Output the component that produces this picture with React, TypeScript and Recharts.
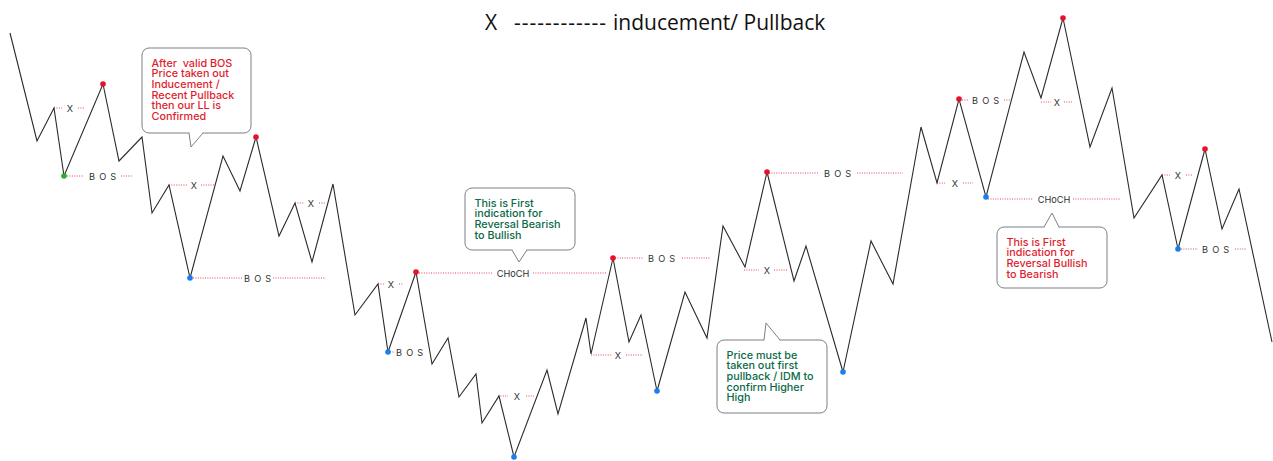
import React from 'react';
import { ComposedChart, Line, XAxis, YAxis, ReferenceLine, ReferenceDot, ReferenceArea } from 'recharts';

const W = 1273;
const H = 461;

// zig-zag price swing vertices
const swingX = [10, 37, 54, 64, 103, 119, 142, 152, 169, 190, 223, 240, 256, 279, 295, 312, 333, 355, 378, 388, 416, 432, 448, 459, 476, 482, 499, 514, 547, 558, 586, 591, 613, 629, 641, 657, 685, 707, 723, 745, 767, 794, 806, 843, 871, 893, 921, 937, 959, 986, 1024, 1041, 1063, 1090, 1112, 1134, 1162, 1178, 1205, 1222, 1239, 1272];
const swingY = [33, 141, 108, 176, 84, 161, 137, 213, 185, 278, 156, 191, 137, 236, 203, 262, 184, 315, 284, 352, 272, 364, 338, 397, 374, 423, 396, 457, 370, 414, 318, 354, 258, 342, 315, 391, 292, 338, 226, 267, 172, 281, 246, 372, 241, 284, 127, 183, 99, 197, 52, 98, 18, 147, 88, 218, 175, 249, 149, 229, 189, 342];

// structure levels: [price, leftStart, leftEnd, rightStart, rightEnd, labelX]
const levelLabels = ['X', 'B O S', 'X', 'X', 'B O S', 'X', 'CHoCH', 'B O S', 'X', 'X', 'B O S', 'X', 'B O S', 'X', 'B O S', 'X', 'CHoCH', 'X', 'B O S'];
const levelValues = [
  [108, 54, 62, 78, 84, 70],
  [176, 67, 84, 121, 133, 103],
  [185, 169, 187, 201, 215, 194],
  [203, 295, 304, 319, 325, 311],
  [278, 193, 243, 273, 326, 258],
  [284, 378, 385, 399, 403, 391],
  [273, 419, 493, 533, 606, 513],
  [352, 390, 395, 0, 0, 410],
  [396, 498, 508, 526, 534, 517],
  [355, 591, 612, 626, 643, 618],
  [258, 615, 643, 682, 710, 662],
  [270, 744, 759, 774, 787, 767],
  [173, 769, 819, 857, 903, 838],
  [183, 937, 945, 963, 973, 955],
  [100, 962, 968, 1004, 1011, 986],
  [102, 1041, 1051, 1064, 1072, 1057],
  [199, 988, 1033, 1073, 1121, 1054],
  [175, 1162, 1170, 1186, 1193, 1178],
  [249, 1181, 1198, 1235, 1247, 1216],
];

const greenPoints = [[64, 176]];
const redPoints = [[103, 84], [256, 137], [416, 272], [613, 258], [767, 172], [959, 99], [1063, 18], [1205, 149]];
const bluePoints = [[190, 278], [388, 352], [514, 457], [657, 391], [843, 372], [986, 197], [1178, 249]];

const calloutLines = [
  ['After  valid BOS', 'Price taken out', 'Inducement /', 'Recent Pullback', 'then our LL is', 'Confirmed'],
  ['This is First', 'indication for', 'Reversal Bearish', 'to Bullish'],
  ['Price must be', 'taken out first', 'pullback / IDM to', 'confirm Higher', 'High'],
  ['This is First', 'indication for', 'Reversal Bullish', 'to Bearish'],
];
// [x1, x2, y1, y2]
const calloutBoxes = [
  [142, 251, 48, 133],
  [465, 575, 188, 250],
  [717, 827, 340, 413],
  [997, 1107, 227, 288],
];
// [baseLeftX, baseRightX, tipX, tipY]
const calloutTails = [
  [189, 203, 191, 147],
  [512, 527, 519, 262],
  [764, 780, 766, 323],
  [1044, 1059, 1052, 213],
];
const calloutColors = ['#e11d2e', '#0c6a48', '#0c6a48', '#e11d2e'];

const titleMark = 'X';
const titleDashes = '------------';
const titleText = 'inducement/ Pullback';

const swingData = swingX.map((x, i) => ({ x, y: swingY[i] }));

const LEVEL_COLOR = '#e0426a';
const FONT = 'Inter, "Noto Sans", sans-serif';

function makeCallout(i: number) {
  return (p: any) => {
    const { x, y, width, height } = p;
    const [x1, x2, y1, y2] = calloutBoxes[i];
    const [bl, br, tx, ty] = calloutTails[i];
    const sx = (v: number) => x + ((v - x1) / (x2 - x1)) * width;
    const sy = (v: number) => y + ((v - y1) / (y2 - y1)) * height;
    const bottom = ty > y2;
    const by = bottom ? y + height : y;
    const lines = calloutLines[i];
    return (
      <g>
        <rect x={x} y={y} width={width} height={height} rx={7} ry={7} fill="#fff" stroke="#7a7f88" strokeWidth={1} />
        <line x1={sx(bl) + 0.5} y1={by} x2={sx(br) - 0.5} y2={by} stroke="#fff" strokeWidth={2.5} />
        <path d={`M${sx(bl)},${by} L${sx(tx)},${sy(ty)} L${sx(br)},${by}`} fill="#fff" stroke="#7a7f88" strokeWidth={1} />
        {lines.map((t, k) => (
          <text key={k} x={x + 9.5} y={y + 18.5 + k * 10.7} fill={calloutColors[i]} fontSize={10.8} fontWeight={500} fontFamily={FONT} style={{ whiteSpace: 'pre' }}>
            {t}
          </text>
        ))}
      </g>
    );
  };
}

function makeLabel(text: string) {
  return (p: any) => (
    <text
      x={p.cx}
      y={p.cy}
      textAnchor="middle"
      dominantBaseline="central"
      fontSize={9.2}
      letterSpacing={text === 'B O S' ? 0.8 : 0}
      fill="#333"
      fontFamily={FONT}
      style={{ whiteSpace: 'pre' }}
    >
      {text}
    </text>
  );
}

export default function App() {
  const titleStyle: React.CSSProperties = {
    position: 'absolute',
    top: 8,
    fontFamily: '"Open Sans", sans-serif',
    fontSize: 21,
    lineHeight: '28px',
    color: '#111',
    whiteSpace: 'pre',
    zIndex: 2,
  };
  return (
    <div style={{ position: 'absolute', left: 0, top: 0, width: W, height: H, background: '#fff' }}>
      <div style={{ ...titleStyle, left: 485 }}>{titleMark}</div>
      <div style={{ ...titleStyle, left: 514, letterSpacing: 1 }}>{titleDashes}</div>
      <div style={{ ...titleStyle, left: 613 }}>{titleText}</div>
      <ComposedChart width={W} height={H} data={swingData} margin={{ top: 0, right: 0, bottom: 0, left: 0 }}>
        <XAxis type="number" dataKey="x" domain={[0, W]} hide allowDataOverflow />
        <YAxis type="number" domain={[0, H]} reversed hide allowDataOverflow />
        {levelValues.map((lv, i) => (
          <ReferenceLine
            key={'la' + i}
            segment={[{ x: lv[1], y: lv[0] }, { x: lv[2], y: lv[0] }]}
            stroke={LEVEL_COLOR}
            strokeDasharray="1 1.4"
            strokeWidth={1}
            ifOverflow="visible"
          />
        ))}
        {levelValues.filter((lv) => lv[4] > 0).map((lv, i) => (
          <ReferenceLine
            key={'lb' + i}
            segment={[{ x: lv[3], y: lv[0] }, { x: lv[4], y: lv[0] }]}
            stroke={LEVEL_COLOR}
            strokeDasharray="1 1.4"
            strokeWidth={1}
            ifOverflow="visible"
          />
        ))}
        {levelValues.map((lv, i) => (
          <ReferenceDot key={'lt' + i} x={lv[5]} y={lv[0]} r={1} ifOverflow="visible" shape={makeLabel(levelLabels[i])} />
        ))}
        {calloutBoxes.map((b, i) => (
          <ReferenceArea key={'co' + i} x1={b[0]} x2={b[1]} y1={b[2]} y2={b[3]} ifOverflow="visible" shape={makeCallout(i)} />
        ))}
        <Line type="linear" dataKey="y" stroke="#2a2a2a" strokeWidth={1.1} dot={false} activeDot={false} isAnimationActive={false} />
        {greenPoints.map((pt, i) => (
          <ReferenceDot key={'g' + i} x={pt[0]} y={pt[1]} r={2.8} fill="#22b422" stroke="none" ifOverflow="visible" />
        ))}
        {redPoints.map((pt, i) => (
          <ReferenceDot key={'r' + i} x={pt[0]} y={pt[1]} r={2.8} fill="#e8102a" stroke="none" ifOverflow="visible" />
        ))}
        {bluePoints.map((pt, i) => (
          <ReferenceDot key={'b' + i} x={pt[0]} y={pt[1]} r={2.8} fill="#1a7ef0" stroke="none" ifOverflow="visible" />
        ))}
      </ComposedChart>
    </div>
  );
}
